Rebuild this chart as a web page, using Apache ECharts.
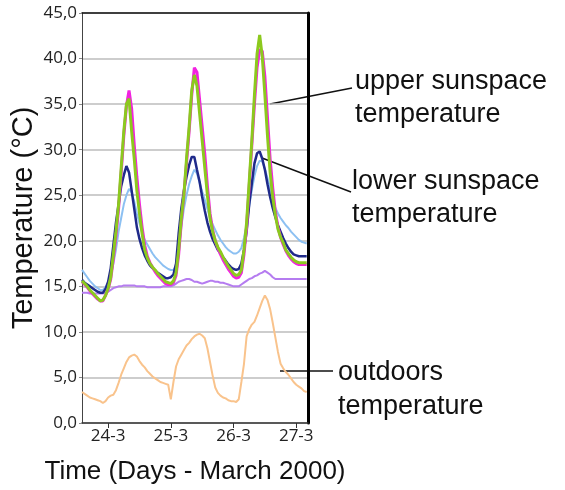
<!DOCTYPE html>
<html>
<head>
<meta charset="utf-8">
<title>Sunspace temperatures</title>
<script src="https://cdn.jsdelivr.net/npm/echarts@6/dist/echarts.min.js"></script>
<style>
	html, body { margin: 0; padding: 0; background: #fff; }
	#chart { width: 565px; height: 490px; }
</style>
</head>
<body>
<div id="chart"></div>
<script>
// hours counted from 24-3 00:00, one reading per hour
var hours = [];
for (var h = -10; h <= 76; h++) { hours.push(h); }

var dayHours = [0, 24, 48, 72];
var dayLabels = ['24-3', '25-3', '26-3', '27-3'];

// upper sunspace (green)
var upperA = [
	15.6, 15.3, 15.0, 14.6, 14.3, 14.0, 13.7, 13.4, 13.5, 14.0,
	14.8, 16.0, 18.5, 21.0, 24.0, 28.0, 32.0, 35.0, 35.6, 32.0,
	29.0, 25.5, 23.0, 20.8, 19.0, 18.1, 17.5, 17.1, 16.8, 16.4,
	16.1, 15.8, 15.5, 15.4, 15.3, 15.6, 16.5, 19.0, 22.5, 25.0,
	29.0, 32.5, 36.5, 38.2, 37.0, 34.0, 31.0, 28.0, 25.0, 22.5,
	21.0, 20.0, 19.3, 18.8, 18.2, 17.7, 17.2, 16.8, 16.4, 16.2,
	16.3, 16.8, 19.0, 22.0, 26.5, 31.0, 36.0, 40.5, 42.6, 40.2,
	36.0, 31.5, 27.5, 24.8, 22.8, 21.3, 20.4, 19.8, 19.0, 18.6,
	18.2, 17.9, 17.7, 17.6, 17.6, 17.6, 17.6
];
// upper sunspace (magenta)
var upperB = [
	15.5, 15.2, 14.9, 14.5, 14.2, 13.9, 13.6, 13.4, 13.4, 14.0,
	14.7, 15.8, 18.0, 20.5, 23.5, 27.5, 31.5, 34.8, 36.5, 34.5,
	30.5, 27.0, 24.0, 21.5, 19.5, 18.3, 17.6, 17.1, 16.6, 16.2,
	15.9, 15.6, 15.3, 15.2, 15.2, 15.4, 16.2, 18.5, 22.0, 25.0,
	28.5, 32.0, 36.0, 39.0, 38.5, 35.5, 32.5, 29.5, 26.0, 23.0,
	21.2, 20.0, 19.2, 18.5, 17.9, 17.4, 16.9, 16.5, 16.1, 15.9,
	16.0, 16.5, 18.5, 21.5, 26.0, 30.5, 35.0, 39.0, 41.0, 40.8,
	38.0, 33.5, 29.0, 25.8, 23.2, 21.5, 20.4, 19.6, 18.9, 18.4,
	18.0, 17.7, 17.5, 17.4, 17.4, 17.4, 17.4
];
// lower sunspace (dark blue)
var lowerA = [
	15.7, 15.4, 15.2, 15.0, 14.8, 14.6, 14.4, 14.3, 14.3, 14.7,
	15.5, 17.0, 19.5, 22.0, 24.0, 26.0, 27.2, 28.2, 27.5, 25.5,
	23.5, 21.5, 20.2, 19.2, 18.4, 17.8, 17.3, 17.0, 16.7, 16.5,
	16.3, 16.1, 15.9, 15.9, 16.0, 16.3, 17.5, 20.8, 23.5, 25.5,
	27.0, 28.3, 29.2, 29.2, 27.8, 26.5, 24.8, 23.3, 22.0, 21.0,
	20.2, 19.6, 19.0, 18.6, 18.2, 17.8, 17.4, 17.1, 16.9, 16.8,
	16.9, 17.5, 19.0, 21.0, 24.0, 26.3, 28.5, 29.6, 29.8, 29.0,
	27.8, 26.2, 24.8, 23.6, 22.6, 21.7, 21.0, 20.3, 19.7, 19.2,
	18.8, 18.5, 18.4, 18.3, 18.3, 18.3, 18.3
];
// lower sunspace (light blue)
var lowerB = [
	16.8, 16.4, 16.0, 15.6, 15.3, 15.0, 14.8, 14.6, 14.6, 14.9,
	15.4, 16.2, 17.5, 19.0, 21.0, 22.5, 24.0, 25.0, 25.7, 25.3,
	24.3, 23.0, 21.9, 20.9, 20.1, 19.6, 19.1, 18.6, 18.2, 17.9,
	17.6, 17.3, 17.1, 16.9, 16.8, 16.8, 17.3, 19.0, 21.5, 23.5,
	25.0, 26.2, 27.1, 27.8, 27.4, 26.4, 25.4, 24.5, 23.5, 22.5,
	21.8, 21.2, 20.6, 20.1, 19.7, 19.3, 19.0, 18.8, 18.6, 18.6,
	18.8, 19.2, 20.3, 21.8, 23.8, 25.6, 27.1, 28.2, 28.8, 28.7,
	27.9, 26.9, 25.7, 24.6, 23.6, 23.0, 22.5, 22.1, 21.7, 21.4,
	21.0, 20.7, 20.4, 20.1, 19.9, 19.8, 19.7
];
// purple line around 15 degrees
var floorTemp = [
	14.3, 14.3, 14.3, 14.2, 14.2, 14.2, 14.2, 14.2, 14.2, 14.3,
	14.4, 14.6, 14.8, 14.9, 15.0, 15.0, 15.1, 15.1, 15.1, 15.1,
	15.1, 15.0, 15.0, 15.0, 15.0, 14.9, 14.9, 14.9, 14.9, 14.9,
	14.9, 15.0, 15.0, 15.0, 15.0, 15.1, 15.3, 15.5, 15.6, 15.7,
	15.8, 15.8, 15.7, 15.5, 15.5, 15.4, 15.3, 15.4, 15.5, 15.6,
	15.6, 15.5, 15.5, 15.4, 15.4, 15.3, 15.2, 15.1, 15.0, 15.0,
	15.0, 15.2, 15.4, 15.6, 15.8, 15.9, 16.1, 16.2, 16.4, 16.5,
	16.7, 16.5, 16.3, 16.0, 15.8, 15.8, 15.8, 15.8, 15.8, 15.8,
	15.8, 15.8, 15.8, 15.8, 15.8, 15.8, 15.8
];
// outdoors (orange)
var outdoors = [
	3.4, 3.2, 3.0, 2.8, 2.7, 2.6, 2.5, 2.4, 2.2, 2.4,
	2.8, 3.0, 3.1, 3.6, 4.4, 5.3, 6.0, 6.7, 7.2, 7.4,
	7.5, 7.3, 6.8, 6.4, 6.1, 5.7, 5.4, 5.1, 4.9, 4.7,
	4.5, 4.4, 4.3, 4.2, 2.6, 4.5, 6.2, 7.0, 7.5, 8.0,
	8.5, 8.8, 9.2, 9.5, 9.7, 9.8, 9.6, 9.3, 8.2, 6.7,
	5.2, 3.9, 3.3, 3.0, 2.8, 2.7, 2.5, 2.4, 2.4, 2.3,
	2.6, 4.5, 6.5, 9.5, 10.3, 10.8, 11.1, 11.8, 12.6, 13.4,
	14.0, 13.5, 12.5, 11.0, 9.4, 7.8, 6.5, 6.0, 5.6, 5.3,
	4.9, 4.5, 4.2, 4.0, 3.8, 3.5, 3.4
];

function pairs(values) {
	var out = [];
	for (var i = 0; i < values.length; i++) {
		out.push([hours[i], values[i]]);
	}
	return out;
}

function lineSeries(values, color, width) {
	return {
		type: 'line',
		data: pairs(values),
		showSymbol: false,
		silent: true,
		lineStyle: { color: color, width: width },
		animation: false
	};
}

var chart = echarts.init(document.getElementById('chart'));
var textFont = '"Liberation Sans", Arial, sans-serif';
var numFont = '"Open Sans", "DejaVu Sans", sans-serif';

chart.setOption({
	animation: false,
	grid: { left: 82, right: 257, top: 13, bottom: 61 },
	xAxis: [{
		type: 'value',
		min: -10,
		max: 76.5,
		name: 'Time (Days - March 2000)',
		nameLocation: 'middle',
		nameGap: 36,
		nameTextStyle: { fontFamily: textFont, fontSize: 26, color: '#111' },
		axisLine: { onZero: false, lineStyle: { color: '#333', width: 1.5 } },
		axisTick: { customValues: dayHours, length: 5, lineStyle: { color: '#333' } },
		axisLabel: {
			customValues: dayHours,
			fontFamily: numFont,
			fontSize: 17,
			color: '#222',
			margin: 5,
			formatter: function (v) { return dayLabels[dayHours.indexOf(v)]; }
		},
		splitLine: { show: false }
	}, {
		type: 'value',
		position: 'top',
		min: -10,
		max: 76.5,
		axisLine: { onZero: false, lineStyle: { color: '#111', width: 1.5 } },
		axisTick: { show: false },
		axisLabel: { show: false },
		splitLine: { show: false }
	}],
	yAxis: [{
		type: 'value',
		min: 0,
		max: 45,
		interval: 5,
		name: 'Temperature (°C)',
		nameLocation: 'middle',
		nameGap: 44,
		nameTextStyle: { fontFamily: textFont, fontSize: 29, color: '#111' },
		axisLine: { show: true, onZero: false, lineStyle: { color: '#444', width: 1 } },
		axisTick: { show: true, length: 3, lineStyle: { color: '#888' } },
		axisLabel: {
			fontFamily: numFont,
			fontSize: 17,
			color: '#222',
			margin: 5,
			formatter: function (v) { return v.toFixed(1).replace('.', ','); }
		},
		splitLine: { lineStyle: { color: '#bdbdbd', width: 1.5 } }
	}, {
		type: 'value',
		position: 'right',
		min: 0,
		max: 45,
		interval: 5,
		axisLine: { show: true, onZero: false, lineStyle: { color: '#000', width: 3 } },
		axisTick: { show: false },
		axisLabel: { show: false },
		splitLine: { show: false }
	}],
	series: [
		lineSeries(floorTemp, '#b57cf0', 2),
		lineSeries(lowerB, '#8cc0f2', 2),
		lineSeries(lowerA, '#1f2a8a', 2.5),
		lineSeries(upperB, '#f222e0', 3),
		lineSeries(upperA, '#8cc91e', 3),
		lineSeries(outdoors, '#f9c38c', 2)
	],
	graphic: [
		{ type: 'line', shape: { x1: 270, y1: 104, x2: 352, y2: 88 }, style: { stroke: '#111', lineWidth: 1.5 } },
		{ type: 'line', shape: { x1: 262, y1: 158, x2: 351, y2: 192 }, style: { stroke: '#111', lineWidth: 1.5 } },
		{ type: 'line', shape: { x1: 280, y1: 371, x2: 333, y2: 371 }, style: { stroke: '#111', lineWidth: 1.5 } },
		{ type: 'text', left: 355, top: 65, style: { text: 'upper sunspace\ntemperature', font: '27px ' + textFont, fill: '#111', lineHeight: 33 } },
		{ type: 'text', left: 352, top: 165, style: { text: 'lower sunspace\ntemperature', font: '27px ' + textFont, fill: '#111', lineHeight: 33 } },
		{ type: 'text', left: 338, top: 356, style: { text: 'outdoors\ntemperature', font: '27px ' + textFont, fill: '#111', lineHeight: 34 } }
	]
});
</script>
</body>
</html>
